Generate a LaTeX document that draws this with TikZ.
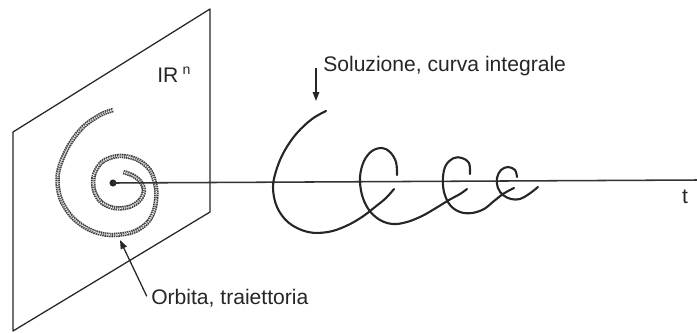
\documentclass[tikz,border=0pt]{standalone}
\usepackage{fontspec}
\setmainfont{Liberation Sans}
\usetikzlibrary{arrows.meta}

\begin{document}
\begin{tikzpicture}[x=0.025cm, y=-0.025cm,
    plane/.style={draw=black!85, line width=0.9pt, line join=round},
    axisline/.style={draw=black!80, line width=1.1pt},
    solcurve/.style={draw=black!85, line width=1.5pt, line cap=round},
    beads/.style={draw=black!75, line width=3.2pt, dash pattern=on 1.1pt off 0.5pt},
    beadholes/.style={draw=white, line width=1pt, dash pattern=on 0.6pt off 1pt},
    pointer/.style={draw=black!85, line width=0.9pt, -{Triangle[length=2.2mm, width=1.6mm]}},
    lbl/.style={font=\fontsize{15}{18}\selectfont, inner sep=0pt, text=black!85}]

    \useasboundingbox (0,0) rectangle (697,332);

    % Plane
    \draw[plane] (13,132) -- (210,9) -- (210,212) -- (13,331) -- cycle;
    \node (space) [lbl, anchor=west] at (157,75) {IR\kern3pt\raisebox{5.4pt}{\fontsize{10}{10}\selectfont n}};

    % Orbit
    \def\orbitpts{(113,110) (100,115) (83,127) (68,147) (58,173) (60,197) (72,217) (90,230) (110,235) (133,232) (148,222) (155,207) (156,188) (150,170) (136,159) (118,156) (102,162) (94,175) (94,190) (101,202) (114,208) (129,207) (140,200) (144,190) (140,181) (132,175) (123,172)}
    \draw[beads] plot[smooth, tension=0.55] coordinates {\orbitpts};
    \draw[beadholes] plot[smooth, tension=0.55] coordinates {\orbitpts};

    % Time axis
    \node (origin) [circle, fill=black!85, inner sep=0pt, minimum size=5pt] at (113,183) {};
    \coordinate (tEnd) at (697,180);
    \draw[axisline] (origin.center) -- (tEnd);
    \node (tlabel) [lbl, anchor=base] at (685,203) {t};

    % Solution curve (broken where it passes behind the axis)
    \draw[solcurve] plot[smooth, tension=0.6] coordinates {(326,111) (312,119) (297,133) (285,150) (277,168) (273,187) (277,207) (289,223) (308,232) (328,232) (346,226) (362,217) (375,207) (386,198) (394,189)};
    \draw[solcurve] plot[smooth, tension=0.6] coordinates {(397,175) (396,162) (390,152) (382,148) (372,151) (364,161) (360,177) (362,195) (369,210) (380,220) (393,224) (407,222) (422,216) (436,208) (449,200) (460,194) (467,189)};
    \draw[solcurve] plot[smooth, tension=0.6] coordinates {(470,174) (469,163) (462,158) (454,158) (446,165) (443,177) (444,192) (450,205) (460,212) (472,213) (484,209) (494,201) (503,194) (510,190) (514,188)};
    \draw[solcurve] plot[smooth, tension=0.6] coordinates {(517,177) (515,170) (508,167) (501,170) (497,178) (498,188) (503,195) (511,199) (520,199) (529,194) (538,187)};

    % Labels
    \node (sol) [lbl, anchor=base west] at (323,71) {Soluzione, curva integrale};
    \coordinate (solTip) at (316,101);
    \draw[pointer] ([yshift=2pt]sol.base west -| solTip) -- (solTip);

    \node (orb) [lbl, anchor=base west] at (151,304) {Orbita, traiettoria};
    \coordinate (orbTip) at (120,240);
    \draw[pointer] ([xshift=-3pt, yshift=1pt]orb.west) -- (orbTip);
\end{tikzpicture}
\end{document}
